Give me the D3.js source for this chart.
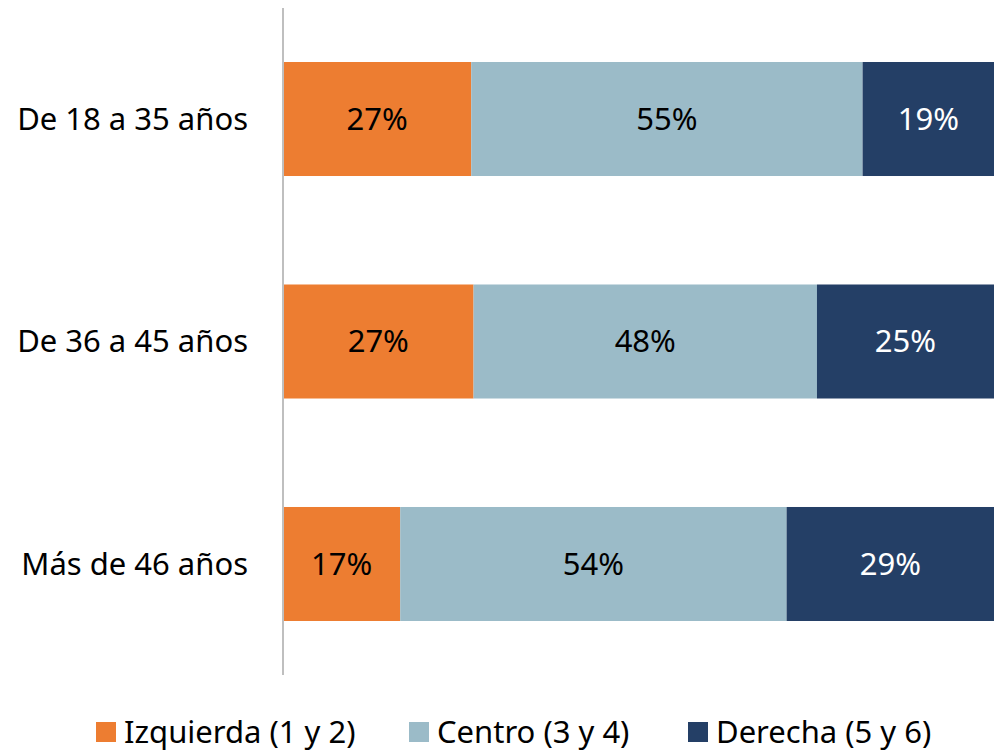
<!DOCTYPE html>
<html>
<head>
<meta charset="utf-8">
<script src="https://d3js.org/d3.v7.min.js"></script>
<style>
  body { margin: 0; background: #fff; }
  text { font-family: "Noto Sans", sans-serif; }
</style>
</head>
<body>
<div id="chart"></div>
<script>
// data
const groups = ['De 18 a 35 años', 'De 36 a 45 años', 'Más de 46 años'];
const seriesNames = ['Izquierda (1 y 2)', 'Centro (3 y 4)', 'Derecha (5 y 6)'];
const izquierda = [26.5, 26.8, 16.5];
const centro = [55.1, 48.3, 54.4];
const derecha = [18.5, 24.9, 29.2];
const colors = ['#ED7D31', '#9BBBC8', '#243F66'];
const labelColors = ['#000', '#000', '#fff'];

const width = 994;
const height = 753;
const margin = { top: 8, right: 0, bottom: 78, left: 283 };
const fontSize = 31;

const rows = groups.map((g, i) => ({
    group: g,
    s0: izquierda[i],
    s1: centro[i],
    s2: derecha[i]
}));

const stack = d3.stack()
    .keys(['s0', 's1', 's2'])
    .offset(d3.stackOffsetExpand);
const layers = stack(rows);

const svg = d3.select('#chart')
    .append('svg')
    .attr('width', width)
    .attr('height', height);

const x = d3.scaleLinear()
    .domain([0, 1])
    .range([margin.left, width - margin.right]);

const y = d3.scaleBand()
    .domain(groups)
    .range([margin.top, height - margin.bottom])
    .paddingInner(0.4876)
    .paddingOuter(0.2427);

// bars
const layerG = svg.selectAll('.layer')
    .data(layers)
    .enter().append('g')
    .attr('class', 'layer')
    .attr('fill', (d, i) => colors[i]);

layerG.selectAll('rect')
    .data(d => d)
    .enter().append('rect')
    .attr('x', d => x(d[0]))
    .attr('y', d => y(d.data.group))
    .attr('width', d => x(d[1]) - x(d[0]))
    .attr('height', y.bandwidth());

// value labels
layerG.each(function(layer, li) {
    d3.select(this).selectAll('text')
        .data(layer)
        .enter().append('text')
        .attr('x', d => (x(d[0]) + x(d[1])) / 2)
        .attr('y', d => y(d.data.group) + y.bandwidth() / 2)
        .attr('dy', '0.35em')
        .attr('text-anchor', 'middle')
        .attr('font-size', fontSize)
        .attr('fill', labelColors[li])
        .text(d => Math.round(d.data[layer.key]) + '%');
});

// category axis
svg.append('line')
    .attr('x1', margin.left).attr('x2', margin.left)
    .attr('y1', margin.top).attr('y2', height - margin.bottom)
    .attr('stroke', '#bfbfbf')
    .attr('stroke-width', 2);

svg.selectAll('.cat')
    .data(groups)
    .enter().append('text')
    .attr('class', 'cat')
    .attr('x', 248)
    .attr('y', d => y(d) + y.bandwidth() / 2)
    .attr('dy', '0.35em')
    .attr('text-anchor', 'end')
    .attr('font-size', fontSize)
    .attr('fill', '#000')
    .text(d => d);

// legend
const legendX = [96, 409, 688];
const legend = svg.selectAll('.legend')
    .data(seriesNames)
    .enter().append('g')
    .attr('class', 'legend')
    .attr('transform', (d, i) => `translate(${legendX[i]},722)`);

legend.append('rect')
    .attr('width', 20)
    .attr('height', 20)
    .attr('fill', (d, i) => colors[i]);

legend.append('text')
    .attr('x', 28)
    .attr('y', 10)
    .attr('dy', '0.35em')
    .attr('font-size', fontSize)
    .attr('fill', '#000')
    .text(d => d);
</script>
</body>
</html>
